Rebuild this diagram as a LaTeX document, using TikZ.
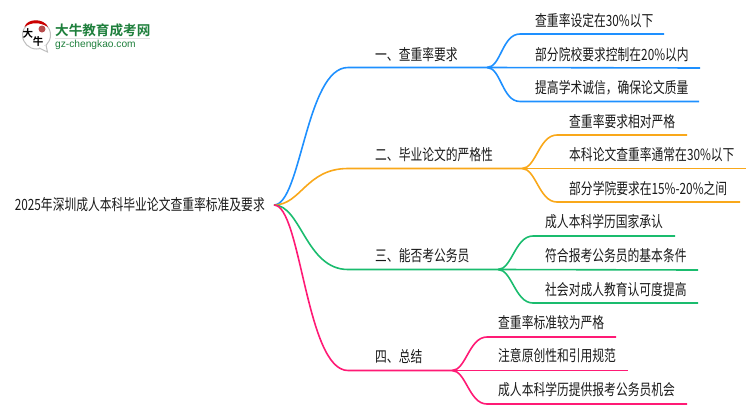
\documentclass[tikz,border=0pt]{standalone}
\usepackage{fontspec}
\setmainfont[FakeStretch=.76]{Noto Sans CJK SC}
\newfontfamily\logofont{Noto Sans CJK SC Bold}
\newfontfamily\logolatin{Liberation Sans}
\definecolor{lblue}{HTML}{1E90FF}
\definecolor{lorange}{HTML}{F9A81A}
\definecolor{lgreen}{HTML}{1ABC6E}
\definecolor{lpink}{HTML}{FF1A75}
\definecolor{logogreen}{HTML}{1E7F3C}
\begin{document}
\begin{tikzpicture}[x=1pt,y=-1pt]
\tikzstyle{label} = [anchor=west, inner sep=0pt, font=\fontsize{15.5}{16}\selectfont, text=black!90]
\tikzstyle{branch} = [line width=1.6pt]
\useasboundingbox (0,0) rectangle (750,410);
% logo
\node (bubble)[circle, draw=black!25, fill=white, line width=1pt, minimum size=28pt, inner sep=0pt] at (36.5,35) {};
\coordinate (tailA) at (39,48);
\coordinate (tailB) at (47.5,52);
\coordinate (tailC) at (46,45);
\draw [black!25, fill=white, line width=1pt] (tailA) -- (tailB) -- (tailC);
\fill [red!80!black] (24.5,27) .. controls (27,18) and (44,18) .. (48,27) .. controls (40,22) and (31,22) .. (24.5,27) -- cycle;
\node (seal)[circle, fill=red!60!black, opacity=.7, minimum size=7pt, inner sep=0pt] at (42,29) {};
\node (logoA)[inner sep=0pt, font=\fontsize{10.5}{11}\logofont] at (28,33) {大};
\node (logoB)[inner sep=0pt, font=\fontsize{10.5}{11}\logofont] at (38,42) {牛};
\node (logoname)[anchor=west, inner sep=0pt, text=logogreen, font=\fontsize{13.6}{14}\logofont] at (55,30) {大牛教育成考网};
\node (logourl)[anchor=west, inner sep=0pt, text=logogreen, font=\fontsize{10.2}{11}\logolatin] at (55,45) {gz-chengkao.com};
\coordinate (rulea) at (55,38.5);
\coordinate (ruleb) at (150,38.5);
\draw [black!12, line width=1pt] (rulea) -- (ruleb);
% root
\node (root)[anchor=east, inner xsep=9pt, inner ysep=0pt, font=\fontsize{15.5}{16}\selectfont, text=black!90] at (274,205) {2025年深圳成人本科毕业论文查重率标准及要求};
% first level
\node (one)[label] at (375,55) {一、查重率要求};
\node (two)[label] at (375,155) {二、毕业论文的严格性};
\node (three)[label] at (375,256) {三、能否考公务员};
\node (four)[label] at (375,357) {四、总结};
% second level
\node (oneA)[label] at (535,21) {查重率设定在30\%以下};
\node (oneB)[label] at (535,54.5) {部分院校要求控制在20\%以内};
\node (oneC)[label] at (535,88) {提高学术诚信，确保论文质量};
\node (twoA)[label] at (569,122) {查重率要求相对严格};
\node (twoB)[label] at (569,155) {本科论文查重率通常在30\%以下};
\node (twoC)[label] at (569,189) {部分学院要求在15\%-20\%之间};
\node (threeA)[label] at (545,222) {成人本科学历国家承认};
\node (threeB)[label] at (545,256) {符合报考公务员的基本条件};
\node (threeC)[label] at (545,290) {社会对成人教育认可度提高};
\node (fourA)[label] at (498,323) {查重率标准较为严格};
\node (fourB)[label] at (498,356) {注意原创性和引用规范};
\node (fourC)[label] at (498,390) {成人本科学历提供报考公务员机会};
% line ends
\coordinate (oneS) at (348,67.5);
\coordinate (oneE) at (487,67.5);
\coordinate (twoS) at (348,168.5);
\coordinate (twoE) at (522,168.5);
\coordinate (threeS) at (348,269.5);
\coordinate (threeE) at (498,269.5);
\coordinate (fourS) at (348,370.5);
\coordinate (fourE) at (452,370.5);
\coordinate (oneAs) at (520,34);
\coordinate (oneAe) at (664,34);
\coordinate (oneBe) at (700,68);
\coordinate (oneCs) at (520,101.5);
\coordinate (oneCe) at (699,101.5);
\coordinate (twoAs) at (557,135);
\coordinate (twoAe) at (687,135);
\coordinate (twoBe) at (746,168.5);
\coordinate (twoCs) at (557,202);
\coordinate (twoCe) at (740,202);
\coordinate (threeAs) at (533,236);
\coordinate (threeAe) at (675,236);
\coordinate (threeBe) at (698,270);
\coordinate (threeCs) at (533,303);
\coordinate (threeCe) at (698,303);
\coordinate (fourAs) at (487,337);
\coordinate (fourAe) at (616,337);
\coordinate (fourBe) at (628,370.5);
\coordinate (fourCs) at (487,404);
\coordinate (fourCe) at (687,404);
% connectors
\draw [branch, lblue] (root.east) .. controls +(27,0) and +(-42,0) .. (oneS) -- (oneE);
\draw [branch, lblue] (oneE) .. controls +(14,0) and +(-18,0) .. (oneAs) -- (oneAe);
\draw [branch, lblue] (oneE) -- (oneBe);
\draw [branch, lblue] (oneE) .. controls +(14,0) and +(-18,0) .. (oneCs) -- (oneCe);
\draw [branch, lorange] (root.east) .. controls +(27,0) and +(-42,0) .. (twoS) -- (twoE);
\draw [branch, lorange] (twoE) .. controls +(14,0) and +(-18,0) .. (twoAs) -- (twoAe);
\draw [branch, lorange] (twoE) -- (twoBe);
\draw [branch, lorange] (twoE) .. controls +(14,0) and +(-18,0) .. (twoCs) -- (twoCe);
\draw [branch, lgreen] (root.east) .. controls +(27,0) and +(-42,0) .. (threeS) -- (threeE);
\draw [branch, lgreen] (threeE) .. controls +(14,0) and +(-18,0) .. (threeAs) -- (threeAe);
\draw [branch, lgreen] (threeE) -- (threeBe);
\draw [branch, lgreen] (threeE) .. controls +(14,0) and +(-18,0) .. (threeCs) -- (threeCe);
\draw [branch, lpink] (root.east) .. controls +(27,0) and +(-42,0) .. (fourS) -- (fourE);
\draw [branch, lpink] (fourE) .. controls +(14,0) and +(-18,0) .. (fourAs) -- (fourAe);
\draw [branch, lpink] (fourE) -- (fourBe);
\draw [branch, lpink] (fourE) .. controls +(14,0) and +(-18,0) .. (fourCs) -- (fourCe);
\end{tikzpicture}
\end{document}
